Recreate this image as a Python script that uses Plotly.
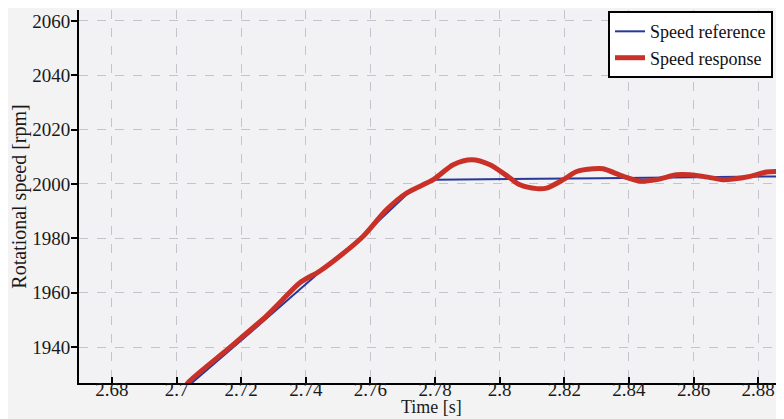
import plotly.graph_objects as go

# Speed reference (blue)
ref_t = [2.70195, 2.70505, 2.72579, 2.74644, 2.75768, 2.77121, 2.77533, 2.77997, 2.83105, 2.8880]
ref_rpm = [1923.85, 1927.15, 1948.4, 1969.8, 1981.0, 1996.1, 1999.4, 2001.6, 2002.1, 2002.8]

# Speed response (red)
resp_t = [2.70195, 2.70412, 2.7165, 2.72786, 2.73199, 2.73817, 2.74437, 2.75056, 2.75777,
          2.76502, 2.77121, 2.77944, 2.78563, 2.79133, 2.79700, 2.80319, 2.80628, 2.81146,
          2.81455, 2.81969, 2.82384, 2.82898, 2.83198, 2.83827, 2.84344, 2.84861, 2.85480,
          2.85892, 2.86294, 2.86913, 2.87223, 2.87749, 2.88266, 2.88678]
resp_rpm = [1924.5, 1927.6, 1939.9, 1951.5, 1956.4, 1963.7, 1968.0, 1973.5, 1980.8,
            1990.6, 1996.7, 2001.6, 2007.1, 2008.9, 2007.1, 2002.2, 1999.7, 1998.3,
            1998.5, 2001.6, 2004.6, 2005.6, 2005.6, 2002.8, 2001.0, 2001.6, 2003.4,
            2003.4, 2002.8, 2001.6, 2001.8, 2002.8, 2004.4, 2004.6]

x_ticks = [2.68, 2.70, 2.72, 2.74, 2.76, 2.78, 2.80, 2.82, 2.84, 2.86, 2.88]
x_tick_labels = ["2.68", "2.7", "2.72", "2.74", "2.76", "2.78", "2.8", "2.82", "2.84", "2.86", "2.88"]
y_ticks = [1940, 1960, 1980, 2000, 2020, 2040, 2060]
x_title = "Time [s]"
y_title = "Rotational speed [rpm]"

FONT = "Liberation Serif"

fig = go.Figure()
fig.add_trace(go.Scatter(x=ref_t, y=ref_rpm, mode="lines", name="Speed reference",
                         line=dict(color="#26389a", width=2)))
fig.add_trace(go.Scatter(x=resp_t, y=resp_rpm, mode="lines", name="Speed response",
                         line=dict(color="#c83028", width=5, shape="spline", smoothing=0.8)))

# The page body has an 8px margin; margins below compensate for it.
fig.update_layout(
    width=784, height=419,
    margin=dict(l=71, r=8, t=2, b=44),
    paper_bgcolor="#f3f3f4", plot_bgcolor="#f2f2f4",
    font=dict(family=FONT, size=18, color="#1a1a1a"),
    showlegend=True,
    legend=dict(x=0.9844, y=0.997, xanchor="right", yanchor="top",
                bgcolor="white", bordercolor="black", borderwidth=2,
                font=dict(family=FONT, size=18, color="#111"),
                itemwidth=30, tracegroupgap=0),
    xaxis=dict(range=[2.6698, 2.888], tickvals=x_ticks, ticktext=x_tick_labels,
               automargin=False,
               showline=True, linecolor="black", linewidth=2, mirror=False,
               ticks="inside", ticklen=6, tickwidth=2, tickcolor="black",
               ticklabelstandoff=-12,
               showgrid=True, gridcolor="#c4c4cc", griddash="dash", gridwidth=1,
               zeroline=False, tickfont=dict(family=FONT, size=19)),
    yaxis=dict(range=[1926.8, 2064], tickvals=y_ticks, automargin=False,
               showline=True, linecolor="black", linewidth=2, mirror=False,
               ticks="outside", ticklen=6, tickwidth=2, tickcolor="black",
               ticklabelstandoff=-3,
               showgrid=True, gridcolor="#c4c4cc", griddash="dash", gridwidth=1,
               zeroline=False, tickfont=dict(family=FONT, size=19),
               title=dict(text=y_title, font=dict(family=FONT, size=20), standoff=0)),
    annotations=[dict(text=x_title, xref="paper", yref="paper", x=0.5, y=0,
                      xanchor="center", yanchor="bottom", yshift=-36, showarrow=False,
                      font=dict(family=FONT, size=18, color="#1a1a1a"))],
)

fig.write_html("out.html")
